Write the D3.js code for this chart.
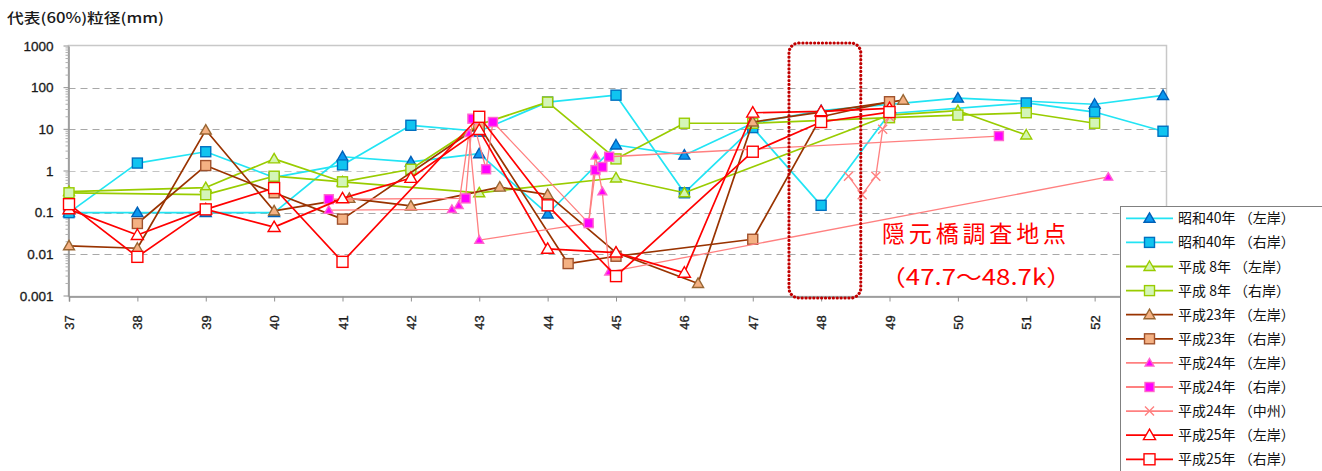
<!DOCTYPE html>
<html><head><meta charset="utf-8">
<script src="https://cdn.jsdelivr.net/npm/d3@7"></script>
<style>body{margin:0;background:#fff;} svg{display:block;}</style>
</head><body><svg id="c" width="1322" height="471"></svg>
<script>
// ---------- data ----------
const xTickValues = [37,38,39,40,41,42,43,44,45,46,47,48,49,50,51,52];
const yTickValues = [0.001,0.01,0.1,1,10,100,1000];
const yTickLabels = ["0.001","0.01","0.1","1","10","100","1000"];
const yTitle = "代表(60%)粒径(mm)";
const seriesNames = ["昭和40年 （左岸）","昭和40年 （右岸）","平成 8年 （左岸）","平成 8年 （右岸）","平成23年 （左岸）","平成23年 （右岸）","平成24年 （左岸）","平成24年 （右岸）","平成24年 （中州）","平成25年 （左岸）","平成25年 （右岸）"];

const s40L_km = [37,38,39,40,41,42,43,44,45,46,47,48,50,52,53];
const s40L_val = [0.1,0.1,0.1,0.1,2.2,1.65,2.6,0.093,4.2,2.4,14,28,56,40,65];
const s40R_km = [37,38,39,40,41,42,43,44,45,46,47,48,49,51,52,53];
const s40R_val = [0.1,1.55,2.9,0.7,1.4,12.5,9,45,66,0.3,11,0.15,24,43,26,9];
const h8L_km = [37,39,40,41,43,45,46,49,50,51];
const h8L_val = [0.32,0.4,1.95,0.55,0.3,0.68,0.3,22,28,7.3];
const h8R_km = [37,39,40,41,42,43,44,45,46,47,49,50,51,52];
const h8R_val = [0.3,0.27,0.75,0.55,1.1,13,45,1.95,14,14,19,22,25,14];
const h23L_km = [37,38,39,40,41.1,42,43.3,44,45,46.2,47,48,49.2];
const h23L_val = [0.016,0.014,9.6,0.11,0.22,0.145,0.41,0.27,0.011,0.002,15,26,50];
const h23R_km = [38,39,40,41,43,44.3,45,47,48,49];
const h23R_val = [0.055,1.35,0.3,0.07,12,0.006,0.009,0.023,20,46];
const h24L_km = [40.8,42.6,42.7,42.85,43,44.6,44.7,44.8,44.9,52.2];
const h24L_val = [0.115,0.12,0.15,8,0.022,0.056,2.3,0.32,0.0038,0.72];
const h24R_km = [40.8,42.8,42.9,43.1,43.2,44.6,44.7,44.8,44.9,50.6];
const h24R_val = [0.21,0.22,18,1.1,15,0.056,1.05,1.25,2.2,6.9];
const h24M_km = [48.4,48.6,48.8,48.9,49.0];
const h24M_val = [0.75,0.27,0.75,10,20];
const h25L_km = [37,38,39,40,41,42,43,44,45,46,47,48,49];
const h25L_val = [0.12,0.029,0.12,0.045,0.22,0.68,9.6,0.0135,0.011,0.0036,25,27,32];
const h25R_km = [37,38,39,40,41,43,44,45,47,48,49];
const h25R_val = [0.16,0.0087,0.12,0.39,0.0066,20,0.15,0.003,2.9,15,26];

const annot1 = "隠元橋調査地点";
const annot2 = "（47.7～48.7k）";
const zoneKm = [47.53, 48.58];

// ---------- styles ----------
const styles = [
  {km:s40L_km, val:s40L_val, line:"#22e4f4", shape:"tri", fill:"#0a98f0", stroke:"#0060b8", size:10},
  {km:s40R_km, val:s40R_val, line:"#22e4f4", shape:"sq", fill:"#10c4f0", stroke:"#0070c0", size:10},
  {km:h8L_km, val:h8L_val, line:"#99cc00", shape:"tri", fill:"#d4f5b0", stroke:"#99cc00", size:10},
  {km:h8R_km, val:h8R_val, line:"#99cc00", shape:"sq", fill:"#d4f5b8", stroke:"#99cc00", size:10},
  {km:h23L_km, val:h23L_val, line:"#993300", shape:"tri", fill:"#f4b183", stroke:"#996633", size:10},
  {km:h23R_km, val:h23R_val, line:"#993300", shape:"sq", fill:"#f4b183", stroke:"#a0522d", size:10},
  {km:h24L_km, val:h24L_val, line:"#ff8080", shape:"tri", fill:"#ff00ff", stroke:"#ff66cc", size:8},
  {km:h24R_km, val:h24R_val, line:"#ff8080", shape:"sq", fill:"#ff00ff", stroke:"#ff66cc", size:9},
  {km:h24M_km, val:h24M_val, line:"#ff8080", shape:"x", fill:"none", stroke:"#ff8080", size:9},
  {km:h25L_km, val:h25L_val, line:"#ff0000", shape:"tri", fill:"#ffffff", stroke:"#ff0000", size:11},
  {km:h25R_km, val:h25R_val, line:"#ff0000", shape:"sq", fill:"#ffffff", stroke:"#ff0000", size:11}
];

const svg = d3.select("#c");
const x = d3.scaleLinear().domain([37,53]).range([69,1163]);
const y = d3.scaleLog().domain([0.001,1000]).range([296,46]);
const L = 68.5, R = 1166.5, T = 45.5, B = 296.5;

// plot frame
svg.append("rect").attr("x",L).attr("y",T).attr("width",R-L).attr("height",B-T)
  .attr("fill","#fff").attr("stroke","#c8c8c8").attr("stroke-width",1.5);

// gridlines
svg.append("g").selectAll("line").data(yTickValues.filter(v=>v>0.001 && v<1000)).join("line")
  .attr("x1",L).attr("x2",R).attr("y1",d=>Math.round(y(d))+0.5).attr("y2",d=>Math.round(y(d))+0.5)
  .attr("stroke",d=>d===1?"#c4c4c4":"#a8a8a8").attr("stroke-width",1.2).attr("stroke-dasharray","7,5");

// y axis
const yAx = svg.append("g").attr("transform",`translate(${L},0)`)
  .call(d3.axisLeft(y).tickValues(yTickValues).tickFormat((d,i)=>yTickLabels[i]).tickSize(0).tickPadding(15));
yAx.select(".domain").attr("stroke","#909090").attr("stroke-width",1.5);
yAx.selectAll("text").attr("font-family","'Liberation Sans', Arial, sans-serif").attr("font-size",13.5)
  .attr("fill","#1a1a1a").attr("stroke","#1a1a1a").attr("stroke-width",0.3);
// minor ticks
const minor = [];
for (let e=-3;e<3;e++) for (let m=2;m<10;m++) minor.push(m*Math.pow(10,e));
svg.append("g").selectAll("line").data(minor).join("line")
  .attr("x1",L-3).attr("x2",L).attr("y1",d=>y(d)).attr("y2",d=>y(d)).attr("stroke","#b0b0b0");
svg.append("g").selectAll("line").data(yTickValues).join("line")
  .attr("x1",L-5).attr("x2",L).attr("y1",d=>y(d)).attr("y2",d=>y(d)).attr("stroke","#909090");

// x axis
const xAx = svg.append("g").attr("transform",`translate(0,${B})`)
  .call(d3.axisBottom(x).tickValues(xTickValues).tickSize(5).tickFormat(d3.format("d")));
xAx.select(".domain").attr("stroke","#909090").attr("stroke-width",1.5);
xAx.selectAll(".tick line").attr("stroke","#909090");
xAx.selectAll("text").attr("font-family","'Liberation Sans', Arial, sans-serif").attr("font-size",13)
  .attr("fill","#1a1a1a").attr("stroke","#1a1a1a").attr("stroke-width",0.3)
  .attr("transform","rotate(-90)").attr("text-anchor","middle")
  .attr("x",-26).attr("y",0).attr("dy","0.35em");

// y title
svg.append("text").attr("x",7).attr("y",23).text(yTitle)
  .attr("font-family","'Noto Sans CJK JP', sans-serif").attr("font-size",14).attr("fill","#1a1a1a")
  .attr("font-weight",500)
  .attr("textLength",157).attr("lengthAdjust","spacingAndGlyphs");

// marker drawer
function marker(g, shape, s, fill, stroke) {
  if (shape==="tri") {
    const h = s*0.95, w = s*0.55;
    g.append("path").attr("d",`M0,${-h*0.58}L${w},${h*0.42}L${-w},${h*0.42}Z`)
      .attr("fill",fill).attr("stroke",stroke).attr("stroke-width",1.4);
  } else if (shape==="sq") {
    g.append("rect").attr("x",-s/2).attr("y",-s/2).attr("width",s).attr("height",s)
      .attr("fill",fill).attr("stroke",stroke).attr("stroke-width",1.4);
  } else {
    const h = s/2;
    g.append("path").attr("d",`M${-h},${-h}L${h},${h}M${-h},${h}L${h},${-h}`)
      .attr("stroke",stroke).attr("stroke-width",1.4).attr("fill","none");
  }
}

// series
const lineGen = d3.line().x(d=>x(d[0])).y(d=>y(d[1]));
const plot = svg.append("g");
styles.forEach(st => {
  const pts = st.km.map((k,i)=>[k, st.val[i]]);
  const g = plot.append("g");
  g.append("path").attr("d",lineGen(pts)).attr("fill","none").attr("stroke",st.line)
    .attr("stroke-width",st.line==="#ff8080"?1.3:1.7).attr("stroke-linejoin","round");
  pts.forEach(p => {
    const mg = g.append("g").attr("transform",`translate(${x(p[0])},${y(p[1])})`);
    marker(mg, st.shape, st.size, st.fill, st.stroke);
  });
});

// dotted zone
svg.append("rect").attr("x",x(zoneKm[0])).attr("y",43).attr("width",x(zoneKm[1])-x(zoneKm[0])).attr("height",255)
  .attr("rx",10).attr("ry",10).attr("fill","none").attr("stroke","#c00000").attr("stroke-width",3.2)
  .attr("stroke-dasharray","0.1,3.8").attr("stroke-linecap","round");

// annotations
svg.append("text").attr("x",882).attr("y",242).text(annot1)
  .attr("font-family","'Noto Sans CJK JP', sans-serif").attr("font-size",23).attr("fill","#ff0000")
  .attr("textLength",184).attr("lengthAdjust","spacing");
svg.append("text").attr("x",880).attr("y",285).text(annot2)
  .attr("font-family","'Noto Sans CJK JP', sans-serif").attr("font-size",22).attr("fill","#ff0000")
  .attr("textLength",192).attr("lengthAdjust","spacingAndGlyphs");

// legend
const lg = svg.append("g");
lg.append("rect").attr("x",1120.5).attr("y",206.5).attr("width",220).attr("height",290)
  .attr("fill","#fff").attr("stroke","#808080");
styles.forEach((st,i) => {
  const yy = 218.3 + i*24.1;
  const g = lg.append("g").attr("transform",`translate(0,${yy})`);
  g.append("line").attr("x1",1126).attr("x2",1173).attr("y1",0).attr("y2",0)
    .attr("stroke",st.line).attr("stroke-width",1.8);
  const mg = g.append("g").attr("transform","translate(1149.5,0)");
  marker(mg, st.shape, st.size, st.fill, st.stroke);
  g.append("text").attr("x",1178).attr("y",5).text(seriesNames[i])
    .attr("font-family","'Noto Sans CJK JP', sans-serif").attr("font-size",14).attr("fill","#111");
});
</script>
</body></html>
